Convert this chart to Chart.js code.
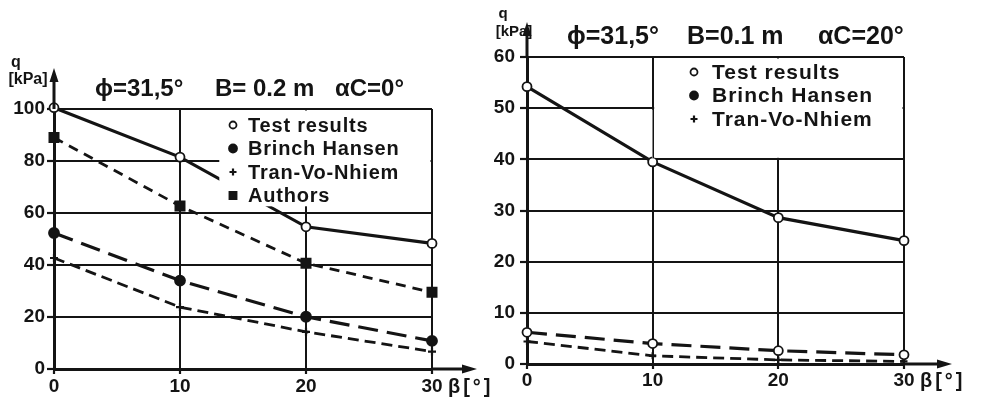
<!DOCTYPE html>
<html><head><meta charset="utf-8">
<script src="https://cdn.jsdelivr.net/npm/chart.js@4.4.1/dist/chart.umd.min.js"></script>
<style>
html,body{margin:0;padding:0;background:#fff;width:984px;height:399px;overflow:hidden;}
#cl{position:absolute;left:0;top:0;}
#cr{position:absolute;left:470px;top:0;}
</style></head><body>
<canvas id="cl" width="500" height="399"></canvas>
<canvas id="cr" width="514" height="399"></canvas>
<script>
// ---- data ----
const betaDeg = [0, 10, 20, 30];
const xTicks = [0, 10, 20, 30];
const leftYTicks = [0, 20, 40, 60, 80, 100];
const rightYTicks = [0, 10, 20, 30, 40, 50, 60];
const seriesNames = ['Test results', 'Brinch Hansen', 'Tran-Vo-Nhiem', 'Authors'];
const leftTest = [100.5, 81.5, 54.7, 48.3];
const leftBrinch = [52.3, 34.0, 20.1, 10.8];
const leftTran = [42.7, 23.8, 14.3, 6.7];
const leftAuthors = [89.0, 62.7, 40.7, 29.5];
const rightTest = [54.2, 39.5, 28.6, 24.1];
const rightBrinch = [6.2, 4.0, 2.6, 1.8];
const rightTran = [4.4, 1.6, 0.8, 0.5];
const leftTitle = ['ϕ=31,5°', 'B= 0.2 m', 'αC=0°'];
const rightTitle = ['ϕ=31,5°', 'B=0.1 m', 'αC=20°'];
const yAxisName = ['q', '[kPa]'];
const xAxisName = 'β[°]';

const INK = '#141414';
const FONT = '"Liberation Sans", Arial, sans-serif';

function pts(vals) { return betaDeg.map((b, i) => ({ x: b, y: vals[i] })); }

function ds(label, vals, style) {
  return Object.assign({
    label, data: pts(vals), borderColor: INK, backgroundColor: INK,
    borderWidth: 3.2, tension: 0, clip: false,
    pointBorderColor: INK, pointBackgroundColor: INK, pointBorderWidth: 1.8,
    pointRadius: 4.5, pointHoverRadius: 4.5
  }, style);
}

function drawMarker(ctx, d, x, y) {
  ctx.save();
  ctx.lineWidth = d.pointBorderWidth;
  ctx.strokeStyle = INK;
  ctx.fillStyle = d.legendFill || d.pointBackgroundColor;
  const r = d.legendRadius || d.pointRadius;
  ctx.beginPath();
  if (d.pointStyle === 'rect') {
    const s = r * Math.SQRT1_2;
    ctx.rect(x - s, y - s, 2 * s, 2 * s); ctx.fill(); ctx.stroke();
  } else if (d.pointStyle === 'cross') {
    ctx.moveTo(x - r, y); ctx.lineTo(x + r, y); ctx.moveTo(x, y - r); ctx.lineTo(x, y + r); ctx.stroke();
  } else {
    ctx.arc(x, y, r, 0, Math.PI * 2); ctx.fill(); ctx.stroke();
  }
  ctx.restore();
}

const sketchPlugin = {
  id: 'sketch',
  afterDatasetsDraw(chart, args, o) {
    const ctx = chart.ctx, ca = chart.chartArea, xs = chart.scales.x, ys = chart.scales.y;
    ctx.save();
    // white legend box covering grid & lines
    ctx.fillStyle = '#fff';
    o.boxes.forEach(b => {
      const x1 = xs.getPixelForValue(b[0]) + 1.5, x2 = xs.getPixelForValue(b[1]) - 1.5;
      const y1 = ys.getPixelForValue(b[3]) + 1.5, y2 = ys.getPixelForValue(b[2]) - 1.5;
      ctx.fillRect(x1, y1, x2 - x1, y2 - y1);
    });
    // legend entries
    ctx.fillStyle = INK;
    ctx.font = 'bold ' + o.legendFont + 'px ' + FONT;
    ctx.letterSpacing = o.legendSpacing + 'px';
    ctx.textBaseline = 'middle';
    ctx.textAlign = 'left';
    chart.data.datasets.forEach((d, i) => {
      const y = o.legendY + i * o.legendStep;
      drawMarker(ctx, d, o.legendX, y);
      ctx.fillStyle = INK;
      ctx.fillText(d.label, o.legendTextX, y + 1);
    });
    ctx.letterSpacing = '0px';
    // axis arrows
    ctx.strokeStyle = INK; ctx.fillStyle = INK; ctx.lineWidth = 3;
    ctx.beginPath();
    ctx.moveTo(ca.left, ca.top); ctx.lineTo(ca.left, o.yTip + 8);
    ctx.moveTo(ca.right, ca.bottom); ctx.lineTo(o.xTip - 8, ca.bottom);
    ctx.stroke();
    ctx.beginPath();
    ctx.moveTo(ca.left, o.yTip); ctx.lineTo(ca.left - 4.5, o.yTip + 14); ctx.lineTo(ca.left + 4.5, o.yTip + 14); ctx.closePath();
    ctx.moveTo(o.xTip, ca.bottom); ctx.lineTo(o.xTip - 15, ca.bottom - 4.5); ctx.lineTo(o.xTip - 15, ca.bottom + 4.5); ctx.closePath();
    ctx.fill();
    // axis names
    ctx.textAlign = 'center';
    ctx.font = 'bold ' + o.qFont + 'px ' + FONT;
    ctx.fillText(yAxisName[0], o.qPos[0], o.qPos[1]);
    ctx.font = 'bold ' + o.kpaFont + 'px ' + FONT;
    ctx.fillText(yAxisName[1], o.kpaPos[0], o.kpaPos[1]);
    ctx.textAlign = 'left';
    ctx.font = 'bold ' + o.betaFont + 'px ' + FONT;
    ctx.letterSpacing = '3px';
    ctx.fillText(xAxisName, o.betaPos[0], o.betaPos[1]);
    ctx.letterSpacing = '0px';
    // title
    ctx.font = 'bold ' + o.titleFont + 'px ' + FONT;
    o.title.forEach((t, i) => ctx.fillText(t, o.titleX[i], o.titleY));
    ctx.restore();
  }
};

function scales(ymax, yTicksArr, yWidth, xHeight, tickFont, yPad, xPad) {
  const grid = { color: INK, lineWidth: 2, tickLength: 7, tickColor: INK, tickWidth: 2.2 };
  const border = { display: true, color: INK, width: 3 };
  const font = { family: FONT, size: tickFont, weight: 'bold' };
  return {
    x: {
      type: 'linear', min: xTicks[0], max: xTicks[xTicks.length - 1],
      afterBuildTicks: s => { s.ticks = xTicks.map(v => ({ value: v })); },
      afterFit: s => { s.height = xHeight; },
      ticks: { color: INK, font, padding: xPad, maxRotation: 0 },
      grid: Object.assign({}, grid, { tickLength: 5 }), border
    },
    y: {
      type: 'linear', min: 0, max: ymax,
      afterBuildTicks: s => { s.ticks = yTicksArr.map(v => ({ value: v })); },
      afterFit: s => { s.width = yWidth; },
      ticks: { color: INK, font, padding: yPad },
      grid, border
    }
  };
}

const common = {
  responsive: false, animation: false, devicePixelRatio: 1,
  plugins: { legend: { display: false }, tooltip: { enabled: false }, title: { display: false } },
};

// ---- left chart ----
new Chart(document.getElementById('cl'), {
  type: 'line',
  data: {
    datasets: [
      ds(seriesNames[0], leftTest, { pointStyle: 'circle', pointBackgroundColor: '#fff', pointRadius: 4.5, legendRadius: 3.5 }),
      ds(seriesNames[1], leftBrinch, { pointStyle: 'circle', borderDash: [20, 9], pointRadius: 5, legendRadius: 4 }),
      ds(seriesNames[2], leftTran, { pointStyle: 'cross', borderDash: [11, 6], borderWidth: 2.8, pointRadius: 4, pointBorderWidth: 2.2, legendRadius: 3.5 }),
      ds(seriesNames[3], leftAuthors, { pointStyle: 'rect', borderDash: [10, 7], borderWidth: 2.8, pointRadius: 6.5, legendRadius: 5 })
    ]
  },
  options: Object.assign({}, common, {
    layout: { padding: { top: 109, right: 68, bottom: 0, left: 0 } },
    scales: scales(100, leftYTicks, 54, 30, 19, 2, 1),
    plugins: Object.assign({}, common.plugins, {
      sketch: {
        boxes: [[13, 30, 62, 100]],
        legendX: 233, legendTextX: 248, legendY: 125, legendStep: 23.5, legendFont: 20, legendSpacing: 0.8,
        yTip: 68, xTip: 477,
        qFont: 16, qPos: [16, 63], kpaFont: 16, kpaPos: [28, 80],
        betaPos: [448, 387], betaFont: 20,
        title: leftTitle, titleX: [95, 215, 335], titleY: 89, titleFont: 24
      }
    })
  }),
  plugins: [sketchPlugin]
});

// ---- right chart ----
new Chart(document.getElementById('cr'), {
  type: 'line',
  data: {
    datasets: [
      ds(seriesNames[0], rightTest, { pointStyle: 'circle', pointBackgroundColor: '#fff', pointRadius: 4.5, legendRadius: 3.5 }),
      ds(seriesNames[1], rightBrinch, { pointStyle: 'circle', borderDash: [20, 9], pointBackgroundColor: '#fff', legendFill: INK, pointRadius: 4.5, legendRadius: 4 }),
      ds(seriesNames[2], rightTran, { pointStyle: 'cross', borderDash: [11, 6], borderWidth: 2.8, pointRadius: 3.5, pointBorderWidth: 2.2, legendRadius: 3.5 })
    ]
  },
  options: Object.assign({}, common, {
    layout: { padding: { top: 57, right: 80, bottom: 0, left: 0 } },
    scales: scales(60, rightYTicks, 57, 35, 19, 5, 0),
    plugins: Object.assign({}, common.plugins, {
      sketch: {
        boxes: [[10, 30, 40, 60], [9.9, 10.1, 40, 50]],
        legendX: 224, legendTextX: 242, legendY: 72, legendStep: 23.5, legendFont: 21, legendSpacing: 1,
        yTip: 22, xTip: 482,
        qFont: 15, qPos: [33, 14], kpaFont: 15, kpaPos: [44, 32],
        betaPos: [450, 381], betaFont: 20,
        title: rightTitle, titleX: [97, 217, 348], titleY: 37, titleFont: 25
      }
    })
  }),
  plugins: [sketchPlugin]
});
</script>
</body></html>
